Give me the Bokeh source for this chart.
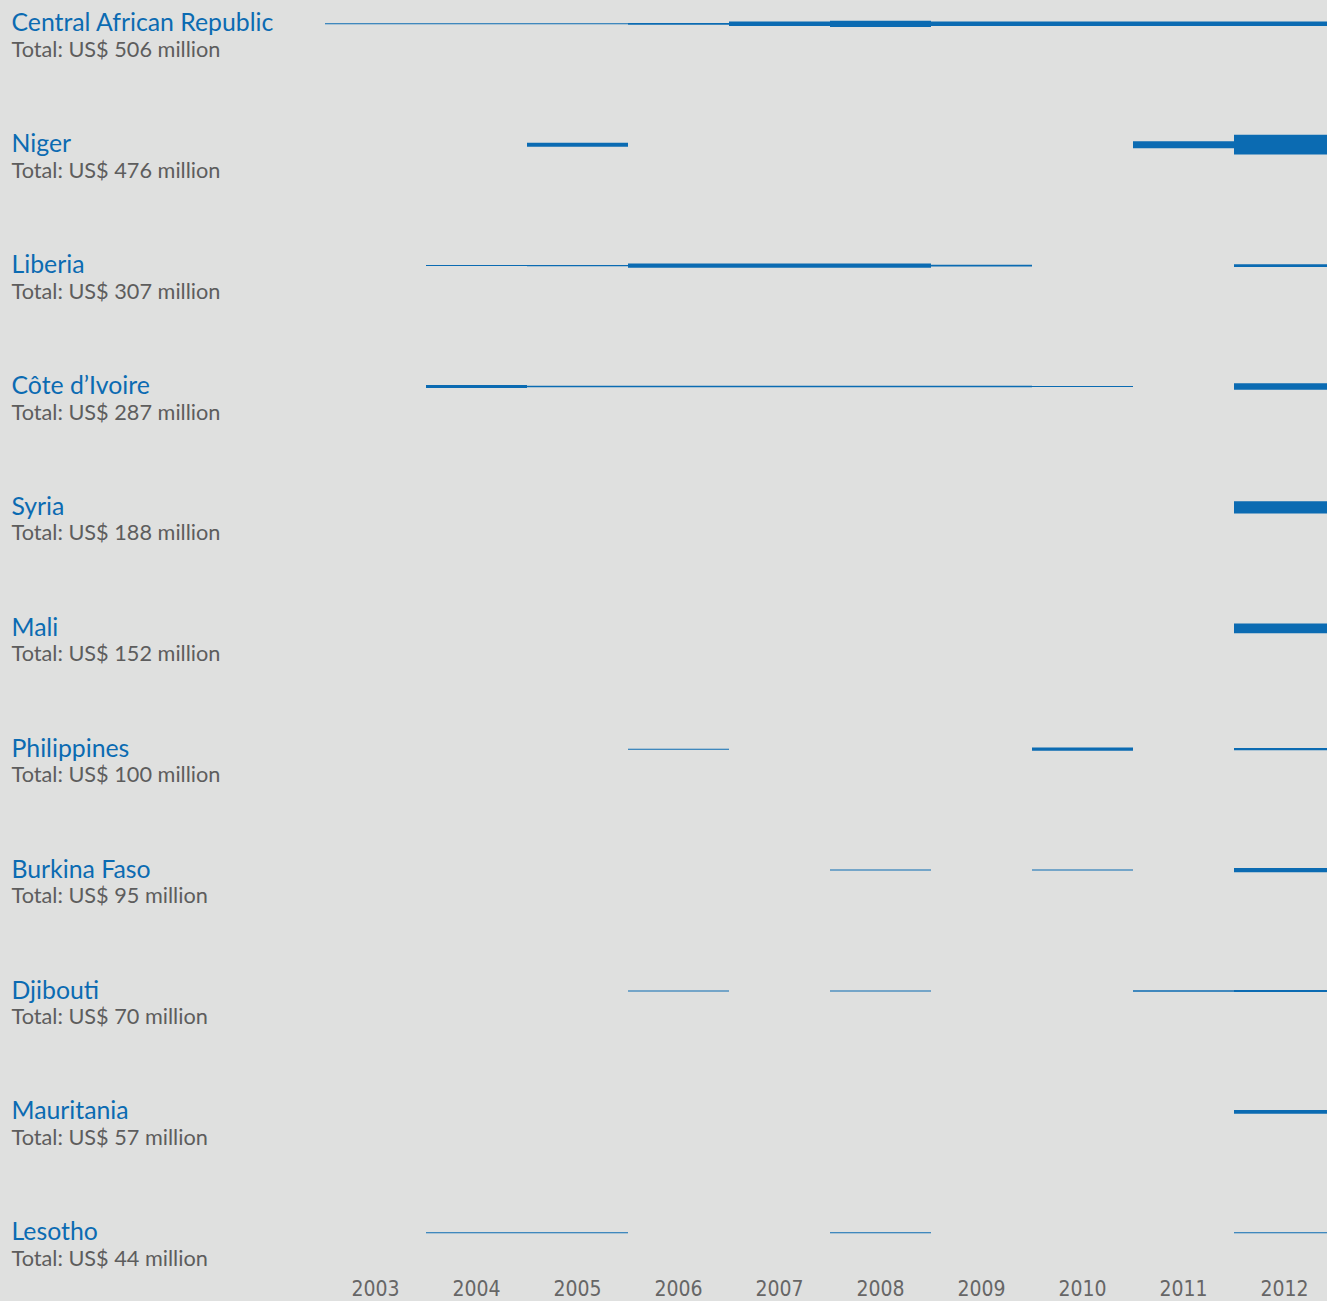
from bokeh.plotting import figure
from bokeh.models import ColumnDataSource, Range1d, FixedTicker
from bokeh.embed import file_html
from bokeh.resources import INLINE
from bokeh.core.properties import value

# ---------------- data (US$ million) ----------------
years = [2003, 2004, 2005, 2006, 2007, 2008, 2009, 2010, 2011, 2012]
countries = ["Central African Republic", "Niger", "Liberia", "Côte d’Ivoire", "Syria",
             "Mali", "Philippines", "Burkina Faso", "Djibouti", "Mauritania", "Lesotho"]
totals = [506, 476, 307, 287, 188, 152, 100, 95, 70, 57, 44]

car = [10, 10, 10, 28, 70, 98, 70, 70, 70, 70]
niger = [0, 0, 60, 0, 0, 0, 0, 0, 110, 306]
liberia = [0, 12, 22, 67, 67, 67, 27, 0, 0, 45]
cote_divoire = [0, 45, 25, 25, 25, 25, 25, 15, 0, 102]
syria = [0, 0, 0, 0, 0, 0, 0, 0, 0, 188]
mali = [0, 0, 0, 0, 0, 0, 0, 0, 0, 152]
philippines = [0, 0, 0, 14, 0, 0, 0, 50, 0, 36]
burkina_faso = [0, 0, 0, 0, 0, 15, 0, 15, 0, 65]
djibouti = [0, 0, 0, 10, 0, 10, 0, 0, 20, 30]
mauritania = [0, 0, 0, 0, 0, 0, 0, 0, 0, 57]
lesotho = [0, 8, 8, 0, 0, 14, 0, 0, 0, 14]

series = [car, niger, liberia, cote_divoire, syria, mali, philippines,
          burkina_faso, djibouti, mauritania, lesotho]

# ---------------- layout / style ----------------
W, H = 1327, 1301
BG = "#dfe0df"
BLUE = "#0b6bb2"
GREY = "#5d5d5d"
YEAR_GREY = "#666666"
YEAR_PX = 101.0
FIRST_YEAR_CENTER_PX = 375.0
ROW_PX = 120.9
FIRST_ROW_PX = 23.3
BOTTOM = 30
MUSD_PER_PX = 15.5

x0 = years[0] - FIRST_YEAR_CENTER_PX / YEAR_PX
x1 = years[0] + (W - FIRST_YEAR_CENTER_PX) / YEAR_PX
frame_h = H - BOTTOM
y_top = -FIRST_ROW_PX / ROW_PX
y_bot = (frame_h - FIRST_ROW_PX) / ROW_PX

p = figure(width=W, height=H, x_range=Range1d(x0, x1), y_range=Range1d(y_bot, y_top),
           output_backend="svg", toolbar_location=None, y_axis_location=None,
           min_border_left=0, min_border_right=0, min_border_top=0, min_border_bottom=BOTTOM)
p.background_fill_color = BG
p.border_fill_color = BG
p.outline_line_color = None
p.grid.visible = False

# bars
bx, by, bh = [], [], []
for i, vals in enumerate(series):
    for yr, v in zip(years, vals):
        if v > 0:
            bx.append(yr)
            by.append(i)
            bh.append(max(v / MUSD_PER_PX, 1.0))
bars = ColumnDataSource(dict(x=bx, y=by, h=bh))
p.rect(x="x", y="y", width=1.0, height="h", height_units="screen", source=bars,
       fill_color=BLUE, line_color=None)

# labels
lab = ColumnDataSource(dict(
    x=[x0] * len(countries),
    y=list(range(len(countries))),
    name=countries,
    total=[f"Total: US$ {t} million" for t in totals],
))
p.text(x="x", y="y", text="name", source=lab, x_offset=11, y_offset=-2,
       text_baseline="alphabetic", text_align="left",
       text_font=value("Lato"), text_font_size="24.8px", text_color=BLUE)
p.text(x="x", y="y", text="total", source=lab, x_offset=11, y_offset=25,
       text_baseline="alphabetic", text_align="left",
       text_font=value("Lato"), text_font_size="21.7px", text_color=GREY)

# year axis
ax = p.xaxis[0]
ax.ticker = FixedTicker(ticks=years)
ax.axis_line_color = None
ax.major_tick_line_color = None
ax.minor_tick_line_color = None
ax.major_label_standoff = 2
ax.major_label_text_font = "DejaVu Sans Condensed, Liberation Sans, sans-serif"
ax.major_label_text_font_size = "21px"
ax.major_label_text_color = YEAR_GREY

template = """
{% block preamble %}<style>html,body{margin:0 !important;padding:0;background:#dfe0df;overflow:hidden;}</style>{% endblock %}
{% block postamble %}<style>html,body{margin:0 !important;padding:0;background:#dfe0df;overflow:hidden;}</style>{% endblock %}
"""

open("out.html", "w").write(file_html(p, INLINE, template=template))
